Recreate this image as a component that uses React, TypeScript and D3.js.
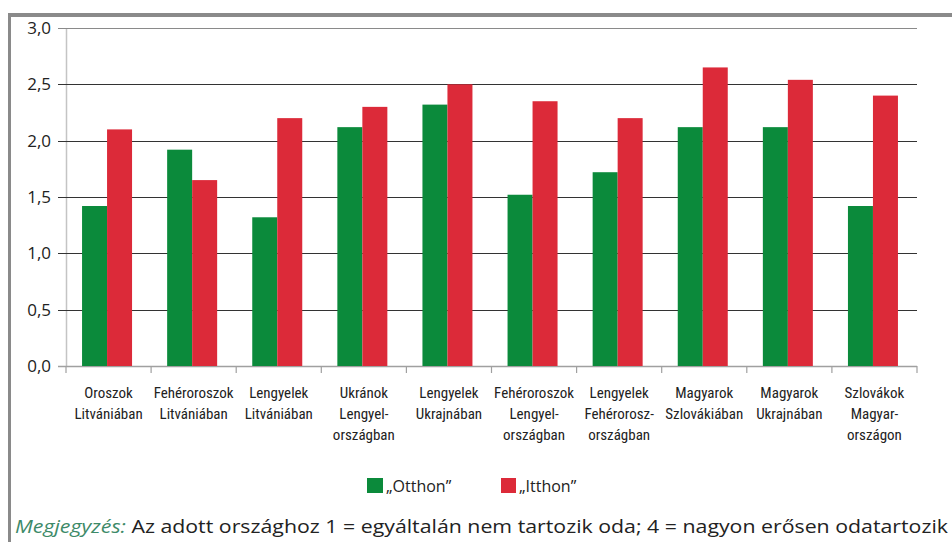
import React from "react";
import * as d3 from "d3";

const categories: string[][] = [
  ["Oroszok", "Litvániában"],
  ["Fehéroroszok", "Litvániában"],
  ["Lengyelek", "Litvániában"],
  ["Ukránok", "Lengyel-", "országban"],
  ["Lengyelek", "Ukrajnában"],
  ["Fehéroroszok", "Lengyel-", "országban"],
  ["Lengyelek", "Fehérorosz-", "országban"],
  ["Magyarok", "Szlovákiában"],
  ["Magyarok", "Ukrajnában"],
  ["Szlovákok", "Magyar-", "országon"],
];
const otthon = [1.42, 1.92, 1.32, 2.12, 2.32, 1.52, 1.72, 2.12, 2.12, 1.42];
const itthon = [2.1, 1.65, 2.2, 2.3, 2.5, 2.35, 2.2, 2.65, 2.54, 2.4];
const yTicks = [0, 0.5, 1.0, 1.5, 2.0, 2.5, 3.0];
const seriesNames = ["„Otthon”", "„Itthon”"];
const noteLabel = "Megjegyzés:";
const noteText = " Az adott országhoz 1 = egyáltalán nem tartozik oda; 4 = nagyon erősen odatartozik";

const GREEN = "#0b8a3b";
const RED = "#dc2a39";

export default function App() {
  const W = 952, H = 542;
  const left = 66, right = 917, top = 28, bottom = 366;
  const idx = categories.map((_, i) => String(i));
  const x = d3.scaleBand<string>().domain(idx).range([left, right]);
  const y = d3.scaleLinear().domain([0, 3]).range([bottom, top]);
  const barW = 25;
  const font = "'Open Sans', 'Noto Sans', sans-serif";
  const condensed = "'Liberation Sans Narrow', 'Roboto Condensed', sans-serif";

  return (
    <svg width={W} height={H} style={{ position: "absolute", left: 0, top: 0, background: "#fff" }}>
      {/* frame */}
      <line x1={8} x2={W} y1={15} y2={15} stroke="#8a8a8a" strokeWidth={4} />
      <line x1={9.5} x2={9.5} y1={13} y2={H} stroke="#8a8a8a" strokeWidth={3} />

      {/* y axis line */}
      <line x1={left + 0.5} x2={left + 0.5} y1={top} y2={bottom} stroke="#c4c4c4" strokeWidth={1.5} />

      {/* gridlines */}
      {yTicks.map((t) => (
        <g key={t}>
          <line
            x1={left - 8}
            x2={right}
            y1={Math.round(y(t)) + 0.5}
            y2={Math.round(y(t)) + 0.5}
            stroke={t === 0 ? "#a0a0a0" : t === 3 ? "#8a8a8a" : "#333"}
            strokeWidth={t === 0 ? 1.5 : 1.2}
          />
          <text
            x={51}
            y={y(t)}
            dy="0.36em"
            textAnchor="end"
            fontFamily={font}
            fontSize={17}
            fill="#222"
          >
            {d3.format(".1f")(t).replace(".", ",")}
          </text>
        </g>
      ))}

      {/* x ticks */}
      {d3.range(categories.length + 1).map((i) => {
        const xx = left + i * x.bandwidth();
        return <line key={i} x1={xx} x2={xx} y1={bottom} y2={bottom + 7} stroke="#a0a0a0" strokeWidth={1.2} />;
      })}

      {/* bars */}
      {categories.map((_, i) => {
        const c = (x(String(i)) as number) + x.bandwidth() / 2 - 1.5;
        return (
          <g key={i}>
            <rect x={c - barW} y={y(otthon[i])} width={barW} height={bottom - y(otthon[i])} fill={GREEN} />
            <rect x={c} y={y(itthon[i])} width={barW} height={bottom - y(itthon[i])} fill={RED} />
          </g>
        );
      })}

      {/* category labels */}
      {categories.map((lines, i) => {
        const c = (x(String(i)) as number) + x.bandwidth() / 2;
        return (
          <text key={i} textAnchor="middle" fontFamily={condensed} fontSize={15} fill="#222">
            {lines.map((l, j) => (
              <tspan key={j} x={c} y={398 + j * 21}>
                {l}
              </tspan>
            ))}
          </text>
        );
      })}

      {/* legend */}
      <rect x={367} y={478} width={16} height={15} fill={GREEN} />
      <text x={386} y={492} fontFamily={font} fontSize={16} fill="#222">{seriesNames[0]}</text>
      <rect x={501} y={478} width={15} height={15} fill={RED} />
      <text x={519} y={492} fontFamily={font} fontSize={16} fill="#222">{seriesNames[1]}</text>

      {/* note */}
      <text x={15} y={533} fontFamily={font} fontSize={19} fill="#222" textLength={933} lengthAdjust="spacingAndGlyphs">
        <tspan fontStyle="italic" fill="#3d8a68">{noteLabel}</tspan>
        <tspan>{noteText}</tspan>
      </text>
    </svg>
  );
}
